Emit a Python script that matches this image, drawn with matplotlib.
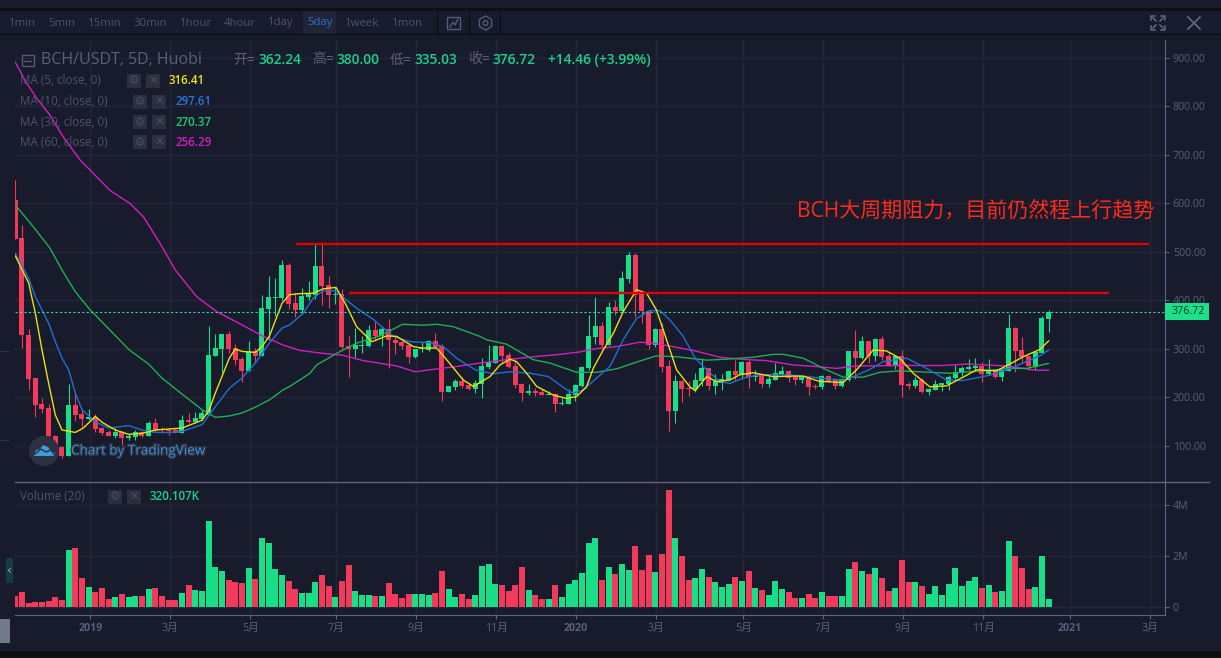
import numpy as np
import matplotlib
matplotlib.use('Agg')
import matplotlib.pyplot as plt
import matplotlib.patheffects as pe
from matplotlib.patches import Rectangle, Circle, Polygon

plt.rcParams['font.family'] = ['Open Sans', 'Noto Sans CJK SC', 'DejaVu Sans']

# candles, one per 5 days
opens = [607,529,329,240,187,179,121,97,80,185,
         166,156,160,137,129,121,129,117,119,129,
         121,148,135,133,133,127,154,150,156,164,
         286,300,331,302,280,255,296,286,383,405,
         405,473,395,381,407,411,471,432,412,414,
         306,300,307,306,339,327,341,319,315,308,
         284,300,298,317,306,212,222,234,226,218,
         228,263,271,306,288,265,228,209,213,212,
         206,207,187,187,205,224,261,325,347,308,
         387,378,444,494,413,378,308,341,265,172,
         234,220,218,234,261,224,230,236,255,247,
         273,242,247,228,236,249,255,242,236,242,
         224,222,244,236,224,236,296,281,316,286,
         321,286,267,286,228,224,236,211,216,226,
         228,240,251,259,261,265,248,257,242,255,
         343,298,286,263,292,362.24]
highs = [649,556,341,240,199,187,123,100,228,214,
         177,177,166,139,133,137,131,125,133,131,
         152,158,139,137,137,164,168,170,175,348,
         331,331,337,311,284,317,302,412,451,447,
         484,477,415,425,440,516,521,451,427,424,
         327,343,327,350,358,346,362,327,321,311,
         300,315,319,333,311,224,238,242,232,236,
         282,308,308,308,294,275,230,228,220,218,
         214,209,199,218,228,265,370,407,356,397,
         401,461,500,498,422,380,343,354,277,247,
         236,234,251,282,261,249,249,257,277,275,
         277,257,249,244,271,265,257,247,247,247,
         228,246,246,240,240,296,339,327,316,323,
         327,294,286,298,232,242,240,220,236,230,
         246,267,265,279,282,273,279,259,261,372,
         345,325,286,294,368,380.00]
lows = [527,303,216,159,168,119,99,76,80,152,
        139,154,129,123,121,117,102,113,113,119,
        121,129,127,123,127,127,148,148,154,164,
        286,253,292,267,232,255,273,286,319,368,
        401,383,366,372,401,403,391,385,393,300,
        242,284,292,304,319,306,261,290,300,271,
        282,294,296,302,193,212,216,220,216,209,
        199,259,271,271,261,220,193,205,203,205,
        205,170,185,187,193,222,257,310,300,308,
        370,378,436,366,354,300,304,253,131,148,
        191,203,211,224,216,207,216,236,236,238,
        220,234,222,222,236,247,232,226,230,205,
        218,218,232,218,222,234,238,279,271,275,
        277,265,259,201,218,220,209,205,216,213,
        216,236,244,257,257,232,246,240,234,255,
        253,271,257,257,292,335.03]
closes = [527,328,238,185,177,121,100,80,185,164,
          156,160,135,127,121,129,117,121,129,121,
          148,133,132,131,127,154,150,158,168,288,
          302,331,300,278,255,296,286,385,407,407,
          473,393,381,409,414,471,430,411,414,304,
          300,308,308,339,327,341,319,313,306,284,
          300,302,317,304,212,224,234,224,218,230,
          265,273,306,286,263,226,209,213,210,205,
          207,187,189,207,226,263,327,347,308,387,
          378,446,494,411,378,308,341,263,172,234,
          218,218,236,261,224,234,238,255,247,273,
          242,247,228,238,251,255,240,236,242,222,
          222,244,234,224,238,296,281,316,286,321,
          284,267,286,226,224,236,211,218,228,229,
          242,253,261,263,265,248,257,242,257,343,
          296,284,265,294,364,376.72]
# volume in millions
volumes = [.43,.59,.16,.20,.20,.24,.39,.28,2.24,2.32,
           1.14,.79,.59,.75,.31,.39,.51,.39,.43,.43,
           .71,.75,.43,.28,.28,.55,.87,.67,.63,3.39,
           1.57,1.42,1.06,.98,.94,1.54,1.10,2.72,2.52,1.50,
           1.26,1.02,.71,.55,.55,.98,1.26,.83,.39,1.02,
           1.65,.63,.47,.47,.43,.43,.94,.51,.35,.51,
           .51,.51,.47,.55,1.42,.71,.39,.51,.31,.47,
           1.61,1.69,.91,.87,.63,.87,1.57,.67,.47,.31,
           .31,.87,.39,.91,1.06,1.34,2.52,2.72,1.06,1.57,
           1.30,1.69,1.46,2.40,1.46,2.05,1.38,2.09,4.61,2.72,
           2.01,1.06,1.14,1.50,1.18,.98,.79,.91,1.18,1.02,
           1.42,.75,.67,.47,1.02,.71,.59,.35,.35,.51,
           .35,.59,.43,.43,.43,1.50,1.77,1.42,1.30,1.54,
           1.14,.63,.75,1.85,.98,.98,.83,.51,.83,.47,
           .91,1.54,.83,1.02,1.18,.75,.87,.59,.63,2.60,
           2.01,1.54,.71,.79,2.01,.32]

# moving averages, read at selected bars
ma5_idx = [0,2,3,4,5,6,7,9,10.2,12,13,15,17,19,21,23,25,28,29.1,30,32.1,33,34,36,37,38.1,40,41.1,
           42.5,44.7,46.2,48.1,49.5,51.2,53.5,55.7,57.2,59.7,61,63.2,64.7,67.2,68.7,71.2,72.7,74.2,75.2,76.7,78.2,80.7,82.7,
           84.2,85.7,86.7,88.2,89.7,91.2,93.2,94.7,96.2,97.7,99.2,101.2,102,103.7,105.2,107.2,108.7,110.7,113.7,116.7,118.2,120.7,
           121.2,124.2,126.2,128.7,130.7,132.7,134.7,137.2,139.7,142.2,144.2,147.2,149.2,151.2,153.7,155]
ma5_val = [492,436,374,298,229,164,133,128,137,161,149,133,124,126,133,135,137,153,175,209,281,300,295,293,305,326,394,412,
           414,415,424,427,394,346,315,327,326,305,302,302,278,236,223,243,267,279,274,250,223,205,198,
           202,222,260,298,332,377,422,415,380,319,257,222,214,243,233,236,247,251,243,244,244,233,
           233,231,257,298,296,281,250,222,224,242,257,255,269,284,299,316.41]
ma10_idx = [0,2,3,5,6,7,8,9,10,12,14,17,19,21,23,25,28,30,32.1,34,36,38.1,40,41.2,43.2,
            44.7,46.2,48,49.5,51.2,53.7,56.7,59.2,62.2,64.2,66.2,69,71.7,74.2,77.2,80,82.7,
            83.7,85.2,87.2,89.2,91.2,93.2,95.2,96.7,98.2,100.2,102,103.7,105.7,107.2,109.2,111.7,115.7,118.2,
            122.2,124.2,125.7,128.2,130.2,133.7,136.2,139.7,142.2,146.2,149.2,151.7,153.7,155]
ma10_val = [497,446,408,353,315,281,257,209,175,150,137,142,133,128,128,130,144,181,219,240,271,312,343,350,374,
            405,420,420,403,384,361,326,315,313,305,281,257,249,253,250,243,216,
            209,216,240,264,319,363,379,379,360,326,281,257,233,229,240,247,247,244,
            238,236,243,258,274,281,264,236,235,246,260,274,286,297.61]
ma30_idx = [0.3,2.7,5.2,7,9,11.2,14.2,17.1,20,22,25.2,28,30,32.1,34,36,38.1,40.2,
            41.2,44.2,45.2,48.2,51.2,54.7,56.7,58.1,61.2,63.2,65.7,69.7,70.7,73.7,77.7,80.2,
            84.2,87.2,90.2,93.2,96.2,99.2,103.7,106.7,110.7,113.7,115.2,118.2,
            121.7,124.2,127.2,129.7,132.7,135.7,140.2,143.2,146.2,149.2,151.7,155]
ma30_val = [592,552,508,463,418,381,339,298,269,240,205,175,159,162,168,180,195,216,
            223,250,267,291,312,327,341,351,349,351,346,326,319,310,278,271,
            252,252,259,273,286,284,277,279,283,289,289,281,
            257,242,242,252,255,253,250,253,256,260,260,270.37]
ma60_idx = [0,1.7,3.2,5.2,7.2,9.7,11.2,14.2,17.2,19.2,21.7,24,27.2,30.2,33.7,37.2,40.2,42.7,
            46.2,49.2,52.2,57.2,60,62.7,66.2,69.7,73.7,77.7,81.7,84.7,87.2,90.2,93.7,95.7,98.2,
            101.7,105.7,108.7,112.7,116.7,120,123.2,126.2,133.2,139.2,142.7,145.7,148.7,151.2,153.2,155]
ma60_val = [891,848,817,782,737,690,669,627,600,573,518,463,408,377,352,326,308,297,
            291,287,276,265,253,258,264,271,278,284,289,294,301,305,314,312,306,
            297,283,279,276,267,264,260,265,266,266,269,267,265,260,256,256.29]

# horizontal resistance levels and last price
resist_hi = 516.5
resist_lo = 414.8
last_price = 376.72

price_ticks = [100,200,300,400,500,600,700,800,900]
vol_ticks = [0,2,4]
vol_labels = ['0','2M','4M']
date_pos = [11.25,23.25,35.25,48.15,60.15,72.15,84.15,96.15,109.2,121.2,133.2,145.2,158.25,170.25]
date_labels = ['2019','3月','5月','7月','9月','11月','2020','3月','5月','7月','9月','11月','2021','3月']

timeframes = ['1min','5min','15min','30min','1hour','4hour','1day','5day','1week','1mon']
timeframe_x = [9,48,88,134,180,224,268,307,345,392]

BG = '#181b2b'
GRID = '#232637'
AXIS = '#5f6388'
TXT = '#5b5f7b'
UP = '#19de88'
DOWN = '#f43a5a'

W, H = 1221, 658
fig = plt.figure(figsize=(W / 100, H / 100), dpi=100, facecolor=BG)


def pane(left, top, right, bottom):
    return fig.add_axes([left / W, 1 - bottom / H, (right - left) / W, (bottom - top) / H], facecolor=BG)


# background pieces, in pixels
back = fig.add_axes([0, 0, 1, 1], zorder=0)
back.set_xlim(0, W)
back.set_ylim(H, 0)
back.axis('off')
back.add_patch(Rectangle((0, 8), W, 3, color='#0e0f13', lw=0))
back.add_patch(Rectangle((0, 34), W, 1, color='#0b0c10', lw=0))
back.add_patch(Rectangle((0, 651), W, 7, color='#0e0f13', lw=0))
back.add_patch(Rectangle((0, 619), 10, 24, color='#707b88', lw=0))
back.add_patch(Rectangle((6, 558), 7, 25, color='#123c48', lw=0))
back.add_patch(Rectangle((0, 351), 10, 1, color='#123c48', lw=0))
back.add_patch(Rectangle((0, 440), 10, 1, color='#123c48', lw=0))
back.add_patch(Rectangle((303, 11), 33, 23, color='#20253a', lw=0))
for sx in [437, 469, 500]:
    back.add_patch(Rectangle((sx, 11), 1, 23, color='#0b0c10', lw=0))

ax = pane(15, 40, 1164.5, 481.5)
vax = pane(15, 482, 1164.5, 615)
ax.set_zorder(1)
vax.set_zorder(1)

x = np.arange(len(closes))
o = np.array(opens)
c = np.array(closes)
colors = [UP if b >= a else DOWN for a, b in zip(o, c)]

ax.vlines(x, lows, highs, colors=colors, lw=0.8, zorder=3)
ax.bar(x, np.maximum(np.abs(c - o), 1.5), bottom=np.minimum(o, c), width=0.75, color=colors, lw=0, zorder=3)

ax.plot(ma60_idx, ma60_val, color='#d31fc0', lw=1.0, zorder=4)
ax.plot(ma30_idx, ma30_val, color='#1fae55', lw=1.0, zorder=4)
ax.plot(ma10_idx, ma10_val, color='#1f6fd6', lw=1.0, zorder=4)
ax.plot(ma5_idx, ma5_val, color='#ecdf0a', lw=1.0, zorder=5)

ax.hlines(resist_hi, 42.1, 170.05, color='#e00000', lw=1.7, zorder=6)
ax.hlines(resist_lo, 50.05, 164.05, color='#e00000', lw=1.7, zorder=6)
ax.axhline(last_price, color='#2fd6a8', lw=0.8, ls=(0, (2, 2)), zorder=6)

ax.set_xlim(-0.05, 172.4)
ax.set_ylim(26.8, 937.1)
ax.set_yticks(price_ticks)
ax.set_yticklabels([f'{p:.2f}' for p in price_ticks])
ax.yaxis.tick_right()
ax.set_xticks(date_pos)
ax.tick_params(axis='x', length=0, labelbottom=False)
ax.tick_params(axis='y', length=3, width=0.8, color=AXIS, labelcolor=TXT, labelsize=7.7, pad=3)
ax.grid(True, color=GRID, lw=1)
ax.set_axisbelow(True)

vax.bar(x, volumes, width=0.9, color=colors, lw=0, zorder=3)
vax.set_xlim(-0.05, 172.4)
vax.set_ylim(-0.315, 4.92)
vax.set_yticks(vol_ticks)
vax.set_yticklabels(vol_labels)
vax.yaxis.tick_right()
vax.set_xticks(date_pos)
vax.set_xticklabels(date_labels)
vax.tick_params(axis='both', length=3, width=0.8, color=AXIS, labelcolor=TXT, labelsize=7.7, pad=3)
for lab in vax.get_xticklabels():
    if lab.get_text().startswith('20'):
        lab.set_fontweight('bold')
vax.grid(True, color=GRID, lw=1)
vax.set_axisbelow(True)

for a in (ax, vax):
    for s in a.spines.values():
        s.set_visible(False)
    a.spines['right'].set_visible(True)
    a.spines['right'].set_color(AXIS)
vax.spines['bottom'].set_visible(True)
vax.spines['bottom'].set_color(AXIS)

# toolbar, legend and watermark on top, in pixels
top = fig.add_axes([0, 0, 1, 1], zorder=5)
top.set_xlim(0, W)
top.set_ylim(H, 0)
top.axis('off')
top.patch.set_alpha(0)
top.plot([15, 1209], [481.5, 481.5], color=AXIS, lw=1)

for t, tx in zip(timeframes, timeframe_x):
    top.text(tx, 23, t, color='#2b6fc8' if t == '5day' else '#50546c', fontsize=8.2, va='center', ha='left')

top.add_patch(Rectangle((447, 17), 13, 12, fill=False, ec='#565a75', lw=1))
top.plot([450, 453, 455, 458], [27, 22, 25, 19], color='#565a75', lw=1)
angles = np.deg2rad([90, 150, 210, 270, 330, 30])
top.add_patch(Polygon(np.c_[485.5 + 7 * np.cos(angles), 23 + 7 * np.sin(angles)], fill=False, ec='#565a75', lw=1))
top.add_patch(Circle((485.5, 23), 2.3, fill=False, ec='#565a75', lw=1))

# expand and close icons
for dx, dy in [(-1, -1), (1, -1), (-1, 1), (1, 1)]:
    cx, cy = 1158, 23
    top.plot([cx + dx * 7, cx + dx * 7, cx + dx * 3], [cy + dy * 3, cy + dy * 7, cy + dy * 7], color='#646884', lw=1.1)
    top.plot([cx + dx * 2, cx + dx * 5], [cy + dy * 2, cy + dy * 5], color='#646884', lw=1.1)
top.plot([1188, 1200], [17, 29], color='#646884', lw=1.2)
top.plot([1188, 1200], [29, 17], color='#646884', lw=1.2)

# symbol header
top.add_patch(Rectangle((21.5, 55), 12, 11, fill=False, ec='#565a75', lw=1))
top.plot([24, 31], [60.5, 60.5], color='#565a75', lw=1)
top.text(41, 60, 'BCH/USDT, 5D, Huobi', color='#5b5f7b', fontsize=11.5, va='center')
quote = [(233, '开='), (312, '高='), (390, '低='), (468, '收=')]
quote_vals = [(258, '362.24'), (336, '380.00'), (414, '335.03'), (492, '376.72'), (548, '+14.46 (+3.99%)')]
for qx, t in quote:
    top.text(qx, 60, t, color='#5b5f7b', fontsize=10, va='center')
for qx, t in quote_vals:
    top.text(qx, 60, t, color='#1ad48a', fontsize=9.9, va='center', fontweight='semibold')


def study_row(y, label, x1, x2, vx, val, col):
    top.text(20, y, label, color='#50546c', fontsize=8.4, va='center')
    for bx in (x1, x2):
        top.add_patch(Rectangle((bx, y - 7), 14, 14, color='#2b2f3e', lw=0))
    top.text(x1 + 7, y, '⚙', family='DejaVu Sans', color='#4a4e60', fontsize=8.5, ha='center', va='center')
    top.text(x2 + 7, y, '✕', family='DejaVu Sans', color='#4a4e60', fontsize=8.5, ha='center', va='center')
    top.text(vx, y, val, color=col, fontsize=8.3, va='center', fontweight='semibold')


study_row(81, 'MA (5, close, 0)', 127, 146, 169, '316.41', '#f0e60f')
study_row(101.5, 'MA (10, close, 0)', 133, 152, 175, '297.61', '#2a78e0')
study_row(122, 'MA (30, close, 0)', 133, 152, 175, '270.37', '#19d26a')
study_row(142, 'MA (60, close, 0)', 133, 152, 175, '256.29', '#d41ec4')
study_row(497, 'Volume (20)', 108, 127, 150, '320.107K', '#1ad48a')

# annotation and last price tag
top.text(797, 211, 'BCH大周期阻力，目前仍然程上行趋势', color='#ff2a1a', fontsize=15.1, va='center')
top.add_patch(Rectangle((1164.5, 303), 44.5, 17, color='#1ce08a', lw=0))
top.text(1171, 311.5, '376.72', color='#12352a', fontsize=7.7, va='center')

# watermark
top.add_patch(Circle((44, 451), 15, color='#2c3040', lw=0))
top.add_patch(Polygon([(34, 456), (36, 450), (40, 449), (43, 445), (48, 447), (51, 451), (55, 453), (55, 456)],
                      color='#3d9be0', lw=0))
top.plot([35, 41, 46, 51, 55], [454, 449, 452, 450, 456], color='#2c3040', lw=1)
top.text(71, 451, 'Chart by TradingView', color='#3d8fd6', fontsize=9.75, va='center',
         path_effects=[pe.withStroke(linewidth=2, foreground='#2c3040')])
top.text(9.5, 570.5, '‹', color='#a8b4bd', fontsize=9, ha='center', va='center', family='DejaVu Sans')

fig.savefig('out.png', dpi=100, facecolor=BG)
